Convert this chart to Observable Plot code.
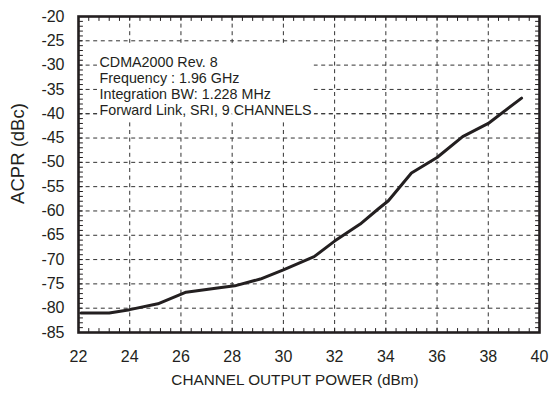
<!DOCTYPE html>
<html>
<head>
<meta charset="utf-8">
<script src="https://cdn.jsdelivr.net/npm/d3@7"></script>
<script src="https://cdn.jsdelivr.net/npm/@observablehq/plot@0.6"></script>
<style>
  html, body { margin: 0; padding: 0; background: #fff; }
  #chart svg { display: block; }
</style>
</head>
<body>
<div id="chart"></div>
<script>
// ACPR vs channel output power (CDMA2000, forward link)
const outputPower = [22.1, 23.2, 24.0, 25.1, 26.2, 27.5, 28.1, 29.1, 30.0, 31.2, 32.0, 33.0, 33.7, 34.1, 35.0, 36.0, 37.0, 38.0, 39.3];
const acpr        = [-81.0, -81.0, -80.3, -79.1, -76.7, -75.8, -75.4, -74.0, -72.1, -69.4, -66.2, -62.7, -59.6, -57.9, -52.2, -49.0, -44.7, -42.0, -36.8];

const xTicks = [22, 24, 26, 28, 30, 32, 34, 36, 38, 40];
const yTicks = [-85, -80, -75, -70, -65, -60, -55, -50, -45, -40, -35, -30, -25, -20];
const xGrid = [24, 26, 28, 30, 32, 34, 36, 38];
const yGrid = [-80, -75, -70, -65, -60, -55, -50, -45, -40, -35, -30, -25];

const noteLines = [
  "CDMA2000 Rev. 8",
  "Frequency : 1.96 GHz",
  "Integration BW: 1.228 MHz",
  "Forward Link, SRI, 9 CHANNELS"
];

const xLabel = "CHANNEL OUTPUT POWER (dBm)";
const yLabel = "ACPR (dBc)";

const data = outputPower.map((x, i) => ({x, y: acpr[i]}));

// minor tick positions along the frame
const xMinor = d3.range(0, 46).map(i => 22 + i * 0.4);
const yMinor = d3.range(-85, -19, 1);

const ink = "#231f20";
const gridStyle = {stroke: "#333", strokeWidth: 1, strokeDasharray: "4,3.6"};

// a plain straight stroke for the inward frame ticks
const tickShape = {draw(context, l) { context.moveTo(0, 0); context.lineTo(0, -l); }};
const frameTicks = (values, channel, side, rotate) =>
  Plot.vector(values, {
    [channel]: d => d, frameAnchor: side, rotate, length: 4, anchor: "start",
    shape: tickShape, stroke: ink, strokeWidth: 1
  });

const chart = Plot.plot({
  width: 554,
  height: 395,
  marginLeft: 78,
  marginRight: 15,
  marginTop: 16,
  marginBottom: 63,
  style: {fontFamily: "'Liberation Sans', Arial, Helvetica, sans-serif", color: ink, background: "#fff"},
  x: {domain: [22, 40]},
  y: {domain: [-85, -20]},
  marks: [
    Plot.ruleX(xGrid, gridStyle),
    Plot.ruleY(yGrid, gridStyle),
    // white panel behind the annotation block
    Plot.rect([0], {x1: 22.74, x2: 31.2, y1: -25.8, y2: -41.3, fill: "#fff"}),
    Plot.ruleY([-40], gridStyle),
    Plot.text([noteLines.join("\n")], {
      frameAnchor: "top-left", dx: 21, dy: 39,
      textAnchor: "start", lineAnchor: "top", lineHeight: 1.13,
      fontSize: 14.3, fill: ink, stroke: "#fff", strokeWidth: 6, paintOrder: "stroke"
    }),
    Plot.line(data, {x: "x", y: "y", stroke: ink, strokeWidth: 3, strokeLinejoin: "round"}),
    // inward ticks on all four sides
    frameTicks(xMinor, "x", "bottom", 0),
    frameTicks(xMinor, "x", "top", 180),
    frameTicks(yMinor, "y", "left", 90),
    frameTicks(yMinor, "y", "right", -90),
    Plot.frame({stroke: ink, strokeWidth: 2.6}),
    Plot.axisX(xTicks, {anchor: "bottom", tickSize: 0, tickPadding: 18, fontSize: 16, tickFormat: d => String(d), label: null}),
    Plot.axisY(yTicks, {anchor: "left", tickSize: 0, tickPadding: 14, fontSize: 16, tickFormat: d => String(d), label: null}),
    Plot.text([xLabel], {frameAnchor: "bottom", dx: -14, dy: 52, fontSize: 15.3, fill: ink}),
    Plot.text([yLabel], {frameAnchor: "left", textAnchor: "middle", rotate: -90, dx: -60, dy: -21, fontSize: 18.5, fill: ink})
  ]
});

document.getElementById("chart").append(chart);
</script>
</body>
</html>
